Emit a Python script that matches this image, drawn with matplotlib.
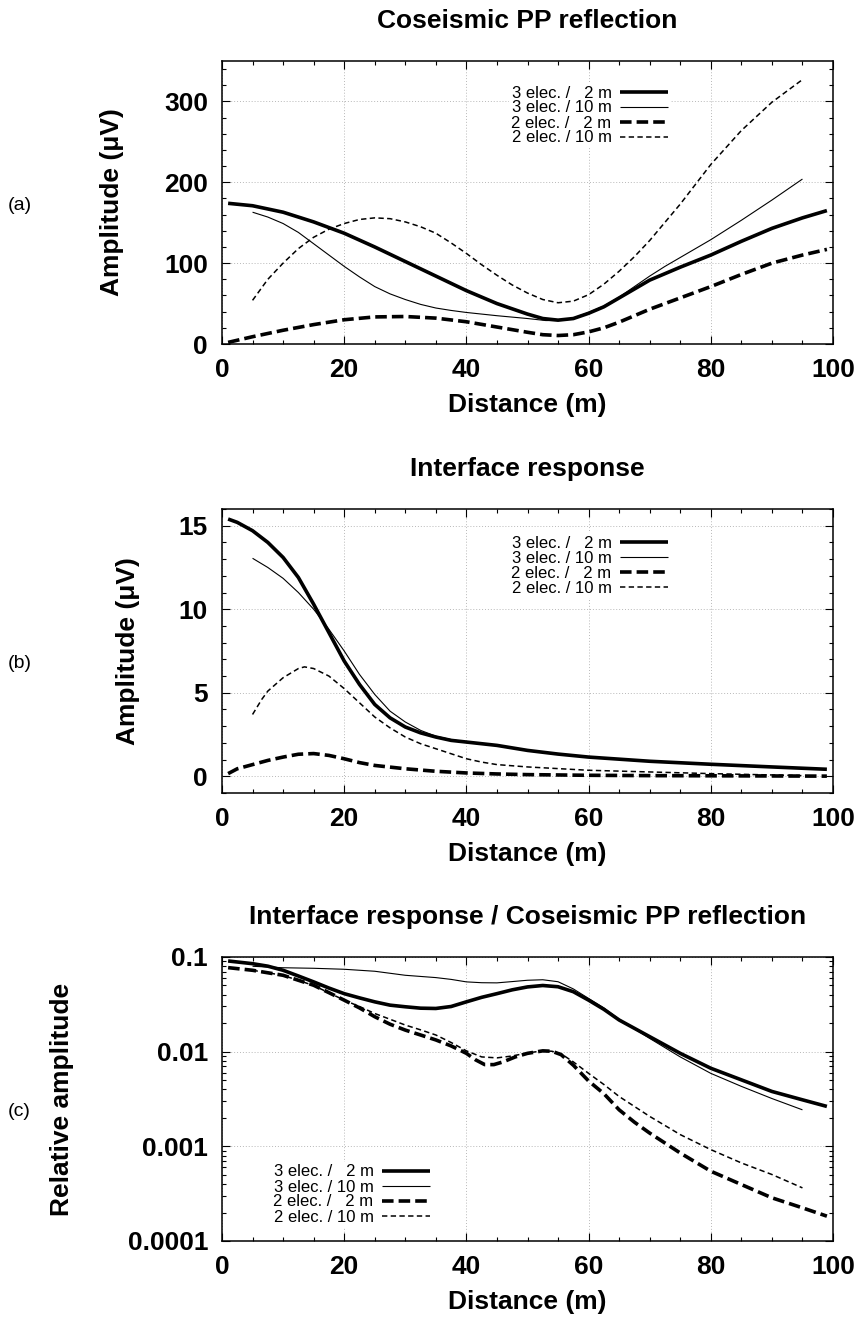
import numpy as np
import matplotlib
matplotlib.use('Agg')
import matplotlib.pyplot as plt
from matplotlib.ticker import AutoMinorLocator, FixedLocator, NullFormatter, LogLocator

plt.rcParams['font.family'] = ['Liberation Sans', 'DejaVu Sans']

# ---------- data ----------
labels = ['3 elec. /   2 m', '3 elec. / 10 m', '2 elec. /   2 m', '2 elec. / 10 m']

# (a) coseismic PP reflection, amplitude in microvolts
x_a_3e2 = [1, 5, 10, 15, 20, 25, 30, 35, 40, 45, 50, 52.5, 55, 57.5, 60, 62.5, 65, 70, 75, 80, 85, 90, 95, 99]
y_a_3e2 = [174, 171, 163, 151, 137, 120, 102, 84, 66, 50, 37, 31.5, 29.5, 31.5, 38, 46, 57, 79, 95, 110, 127, 143, 156, 165]
x_a_3e10 = [5, 7.5, 10, 12.5, 15, 17.5, 20, 22.5, 25, 27.5, 30, 32.5, 35, 37.5, 40, 45, 50, 53, 55, 57.5,
            60, 62.5, 65, 67.5, 70, 72.5, 75, 80, 85, 90, 95]
y_a_3e10 = [163, 157, 149, 138, 124, 110, 96, 83, 71, 62, 55, 49, 44.5, 41.5, 39, 35, 31.5, 29, 29, 32,
            39, 47, 58, 71, 84, 96, 107, 129, 153, 178, 204]
x_a_2e2 = [1, 5, 10, 15, 20, 25, 30, 35, 40, 45, 50, 52.5, 55, 57.5, 60, 62.5, 65, 70, 75, 80, 85, 90, 95, 99]
y_a_2e2 = [2, 9, 17, 24, 30, 33.5, 34, 32, 27.5, 21, 14.5, 11.5, 10.5, 11.5, 15, 20, 27, 43, 57, 71, 86, 100, 110, 117]
x_a_2e10 = [5, 7.5, 10, 12.5, 15, 17.5, 20, 22.5, 25, 27.5, 30, 32.5, 35, 37.5, 40, 42.5, 45, 47.5, 50,
            52.5, 55, 57.5, 60, 62.5, 65, 67.5, 70, 75, 80, 85, 90, 95]
y_a_2e10 = [54, 80, 100, 118, 132, 142, 149, 154, 156, 155, 151, 145, 137, 125, 112, 98, 85, 73, 63,
            55, 51, 53, 61, 74, 90, 108, 128, 173, 222, 264, 299, 327]

# (b) interface response, amplitude in microvolts
x_b_3e2 = [1, 2.5, 5, 7.5, 10, 12.5, 15, 17.5, 20, 22.5, 25, 27.5, 30, 32.5, 35, 37.5, 40, 45, 50, 55,
           60, 70, 80, 90, 99]
y_b_3e2 = [15.4, 15.2, 14.7, 14.0, 13.1, 11.9, 10.3, 8.6, 6.9, 5.5, 4.3, 3.5, 2.95, 2.6, 2.35, 2.15,
           2.05, 1.85, 1.55, 1.33, 1.15, 0.9, 0.72, 0.56, 0.42]
x_b_3e10 = [5, 7.5, 10, 12.5, 15, 17.5, 20, 22.5, 25, 27.5, 30, 32.5, 35, 37.5, 40, 45, 50, 55, 60, 70,
            80, 90, 95]
y_b_3e10 = [13.05, 12.5, 11.85, 11.0, 10.0, 8.8, 7.5, 6.1, 4.9, 3.9, 3.25, 2.75, 2.4, 2.2, 2.05, 1.85,
            1.55, 1.33, 1.15, 0.9, 0.72, 0.56, 0.5]
x_b_2e2 = [1, 2.5, 5, 7.5, 10, 12.5, 15, 17.5, 20, 22.5, 25, 30, 35, 40, 45, 50, 60, 70, 80, 99]
y_b_2e2 = [0.16, 0.45, 0.7, 0.95, 1.15, 1.32, 1.36, 1.25, 1.05, 0.82, 0.65, 0.45, 0.3, 0.2, 0.14, 0.1,
           0.06, 0.04, 0.03, 0.01]
x_b_2e10 = [5, 6.5, 7.5, 10, 12.5, 13.5, 15, 17.5, 20, 22.5, 25, 27.5, 30, 32.5, 35, 37.5, 40, 42.5, 45,
            50, 60, 70, 80, 90, 95]
y_b_2e10 = [3.7, 4.6, 5.1, 5.9, 6.45, 6.55, 6.45, 6.0, 5.25, 4.4, 3.55, 2.9, 2.35, 1.95, 1.65, 1.35,
            1.05, 0.85, 0.7, 0.56, 0.36, 0.26, 0.16, 0.08, 0.04]

# (c) ratio interface response / coseismic reflection
x_c_3e2 = [1, 5, 7.5, 10, 12.5, 15, 17.5, 20, 22.5, 25, 27.5, 30, 32.5, 35, 37.5, 40, 42.5, 45, 47.5,
           50, 52.5, 55, 57.5, 60, 62.5, 65, 70, 75, 80, 85, 90, 95, 99]
y_c_3e2 = [0.0908, 0.085, 0.08, 0.0724, 0.063, 0.0546, 0.047, 0.041, 0.037, 0.0336, 0.031, 0.0298,
           0.0288, 0.0286, 0.030, 0.0336, 0.0375, 0.041, 0.045, 0.0483, 0.050, 0.0485, 0.043, 0.035,
           0.028, 0.0216, 0.0144, 0.0096, 0.00668, 0.00504, 0.0038, 0.0031, 0.00264]
x_c_3e10 = [5, 10, 15, 20, 25, 30, 35, 37.5, 40, 42.5, 45, 47.5, 50, 52.5, 55, 57.5, 60, 62.5, 65, 70,
            75, 80, 85, 90, 95]
y_c_3e10 = [0.0798, 0.077, 0.076, 0.0742, 0.0707, 0.0641, 0.0606, 0.058, 0.0546, 0.0535, 0.0533,
            0.055, 0.0568, 0.0575, 0.0548, 0.046, 0.0365, 0.029, 0.022, 0.0138, 0.0088, 0.0059,
            0.0043, 0.0032, 0.00243]
x_c_2e2 = [1, 5, 10, 15, 17.5, 20, 22.5, 25, 27.5, 30, 32.5, 35, 37.5, 40, 41.5, 43, 44.5, 46, 48, 50,
           52.5, 54, 55.5, 57.5, 60, 62.5, 65, 67.5, 70, 75, 80, 85, 90, 95, 99]
y_c_2e2 = [0.0772, 0.0724, 0.0641, 0.0503, 0.042, 0.035, 0.029, 0.0234, 0.0195, 0.0169, 0.015, 0.0133,
           0.0115, 0.0096, 0.0082, 0.0073, 0.0073, 0.0078, 0.0088, 0.0096, 0.0102, 0.0101, 0.0093,
           0.0072, 0.0049, 0.0036, 0.00243, 0.0018, 0.00138, 0.00085, 0.000546, 0.000395, 0.000286,
           0.000224, 0.000183]
x_c_2e10 = [5, 10, 15, 20, 22.5, 25, 27.5, 30, 32.5, 35, 37.5, 40, 42.5, 45, 47.5, 50, 52.5, 54, 55.5,
            57.5, 60, 62.5, 65, 70, 75, 80, 85, 90, 95]
y_c_2e10 = [0.0724, 0.064, 0.05, 0.035, 0.03, 0.0253, 0.022, 0.0191, 0.017, 0.015, 0.0125, 0.0102,
            0.0088, 0.0086, 0.0090, 0.0097, 0.0102, 0.0101, 0.0095, 0.0078, 0.0059, 0.0045, 0.00336,
            0.00207, 0.00133, 0.000923, 0.000668, 0.000504, 0.000364]

# ---------- styles ----------
styles = [dict(color='black', lw=2.6, ls='-'),
          dict(color='black', lw=0.8, ls='-'),
          dict(color='black', lw=2.6, ls=(0, (3.2, 1.4))),
          dict(color='black', lw=1.1, ls=(0, (3.5, 2.2)))]

W, H = 862, 1327
fig = plt.figure(figsize=(W / 100, H / 100), dpi=100)

def px_axes(top, bottom, left=222, right=833):
    return fig.add_axes([left / W, 1 - bottom / H, (right - left) / W, (bottom - top) / H])

ax_a = px_axes(61, 344)
ax_b = px_axes(509, 793)
ax_c = px_axes(957, 1241)

panels = [
    (ax_a, [(x_a_3e2, y_a_3e2), (x_a_3e10, y_a_3e10), (x_a_2e2, y_a_2e2), (x_a_2e10, y_a_2e10)],
     'Coseismic PP reflection', 'Amplitude (μV)'),
    (ax_b, [(x_b_3e2, y_b_3e2), (x_b_3e10, y_b_3e10), (x_b_2e2, y_b_2e2), (x_b_2e10, y_b_2e10)],
     'Interface response', 'Amplitude (μV)'),
    (ax_c, [(x_c_3e2, y_c_3e2), (x_c_3e10, y_c_3e10), (x_c_2e2, y_c_2e2), (x_c_2e10, y_c_2e10)],
     'Interface response / Coseismic PP reflection', 'Relative amplitude'),
]

for ax, series, title, ylab in panels:
    for (xs, ys), st, lab in zip(series, styles, labels):
        ax.plot(xs, ys, label=lab, solid_capstyle='butt', dash_capstyle='butt',
                solid_joinstyle='round', **st)
    ax.set_xlim(0, 100)
    ax.xaxis.set_major_locator(FixedLocator([0, 20, 40, 60, 80, 100]))
    ax.xaxis.set_minor_locator(AutoMinorLocator(4))
    ax.grid(True, which='major', color='#b8b8b8', lw=0.7, ls=(0, (1, 2)))
    ax.tick_params(which='both', direction='in', top=True, right=True, width=0.8)
    ax.tick_params(which='major', length=6, labelsize=19, pad=10)
    ax.tick_params(which='minor', length=3)
    for sp in ax.spines.values():
        sp.set_linewidth(1.1)
    ax.set_title(title, fontsize=19, fontweight='bold', pad=24)
    ax.set_xlabel('Distance (m)', fontsize=19, fontweight='bold', labelpad=8)
    ax.set_ylabel(ylab, fontsize=19, fontweight='bold', va='center')

ax_a.set_ylim(0, 350)
ax_a.yaxis.set_major_locator(FixedLocator([0, 100, 200, 300]))
ax_a.yaxis.set_minor_locator(AutoMinorLocator(5))
ax_a.yaxis.set_label_coords((112 - 222) / 611, 0.5)

ax_b.set_ylim(-1, 16)
ax_b.yaxis.set_major_locator(FixedLocator([0, 5, 10, 15]))
ax_b.yaxis.set_minor_locator(AutoMinorLocator(5))
ax_b.yaxis.set_label_coords((128 - 222) / 611, 0.5)

ax_c.set_yscale('log')
ax_c.set_ylim(1e-4, 0.1)
ax_c.yaxis.set_major_locator(FixedLocator([1e-4, 1e-3, 1e-2, 1e-1]))
ax_c.yaxis.set_minor_locator(LogLocator(base=10, subs=np.arange(2, 10)))
ax_c.yaxis.set_minor_formatter(NullFormatter())
ax_c.set_yticklabels(['0.0001', '0.001', '0.01', '0.1'])
ax_c.yaxis.set_label_coords((62 - 222) / 611, 0.5)

for ax in (ax_a, ax_b, ax_c):
    for lbl in ax.get_xticklabels() + ax.get_yticklabels():
        lbl.set_fontweight('bold')

leg_kw = dict(fontsize=12, markerfirst=False, handlelength=2.9, handletextpad=0.5,
              labelspacing=0.0, borderpad=0.15, borderaxespad=0, frameon=True,
              fancybox=False, edgecolor='none', facecolor='white', framealpha=1)
ax_a.legend(loc='upper left', bbox_to_anchor=((509 - 222) / 611, 1 - (83 - 61) / 283), **leg_kw)
ax_b.legend(loc='upper left', bbox_to_anchor=((509 - 222) / 611, 1 - (533 - 509) / 284), **leg_kw)
ax_c.legend(loc='lower left', bbox_to_anchor=((271 - 222) / 611, (1241 - 1227) / 284), **leg_kw)

# panel tags
for tag, yc in (('(a)', 206), ('(b)', 663), ('(c)', 1112)):
    fig.text(8 / W, 1 - yc / H, tag, fontsize=14, ha='left', va='center')

fig.savefig('out.png', dpi=100, facecolor='white')
